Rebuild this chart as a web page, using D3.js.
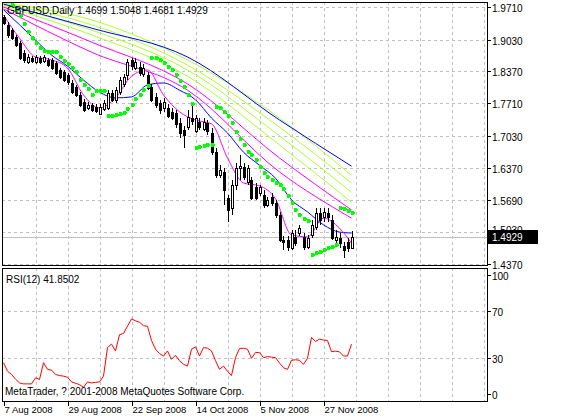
<!DOCTYPE html>
<html>
<head>
<meta charset="utf-8">
<script src="https://cdn.jsdelivr.net/npm/d3@7"></script>
<style>
  body { margin: 0; background: #fff; }
  text { font-family: "Liberation Sans", Arial, sans-serif; font-size: 10px; fill: #000; }
</style>
</head>
<body>
<script>
// GBPUSD daily bars
var opens = [1.950,1.933,1.923,1.909,1.896,1.875,1.857,1.865,1.857,1.865,1.859,1.861,1.861,1.855,1.840,1.836,1.830,1.813,1.805,1.788,
  1.773,1.761,1.767,1.763,1.748,1.759,1.761,1.792,1.778,1.794,1.811,1.830,1.861,1.844,1.846,1.832,1.830,1.805,1.784,1.771,
  1.761,1.761,1.753,1.751,1.730,1.715,1.721,1.740,1.713,1.732,1.717,1.730,1.709,1.669,1.622,1.628,1.574,1.553,1.601,1.636,
  1.638,1.607,1.611,1.597,1.584,1.580,1.559,1.576,1.563,1.538,1.486,1.486,1.470,1.493,1.501,1.493,1.472,1.497,1.514,1.543,
  1.534,1.543,1.528,1.486,1.491,1.474,1.482,1.4699];
var highs = [1.954,1.940,1.927,1.913,1.900,1.882,1.873,1.869,1.871,1.869,1.871,1.865,1.865,1.859,1.844,1.840,1.834,1.819,1.809,1.794,
  1.780,1.773,1.771,1.769,1.769,1.778,1.798,1.798,1.805,1.825,1.832,1.863,1.865,1.865,1.857,1.852,1.836,1.811,1.792,1.778,
  1.782,1.769,1.761,1.757,1.740,1.724,1.757,1.767,1.746,1.740,1.740,1.736,1.719,1.678,1.642,1.636,1.580,1.611,1.646,1.663,
  1.646,1.642,1.617,1.605,1.601,1.590,1.576,1.584,1.570,1.545,1.495,1.495,1.507,1.507,1.518,1.501,1.497,1.528,1.553,1.553,
  1.553,1.553,1.538,1.507,1.501,1.482,1.491,1.5048];
var lows = [1.933,1.907,1.902,1.888,1.861,1.855,1.852,1.855,1.852,1.852,1.855,1.846,1.840,1.830,1.821,1.815,1.809,1.790,1.784,1.763,
  1.753,1.757,1.753,1.751,1.746,1.755,1.757,1.773,1.771,1.788,1.805,1.819,1.840,1.840,1.827,1.825,1.798,1.773,1.761,1.748,
  1.753,1.740,1.736,1.719,1.699,1.678,1.715,1.726,1.709,1.715,1.713,1.705,1.663,1.615,1.615,1.559,1.524,1.538,1.590,1.611,
  1.611,1.601,1.570,1.570,1.578,1.553,1.555,1.557,1.532,1.482,1.466,1.464,1.466,1.474,1.495,1.466,1.468,1.491,1.507,1.518,
  1.524,1.524,1.486,1.480,1.470,1.449,1.461,1.4681];
var closes = [1.938,1.913,1.907,1.892,1.865,1.861,1.867,1.859,1.867,1.857,1.867,1.850,1.844,1.834,1.825,1.819,1.815,1.794,1.788,1.767,
  1.757,1.767,1.757,1.755,1.763,1.771,1.792,1.778,1.798,1.819,1.825,1.857,1.848,1.857,1.834,1.844,1.802,1.778,1.767,1.757,
  1.773,1.744,1.740,1.728,1.709,1.705,1.742,1.734,1.740,1.721,1.732,1.713,1.669,1.622,1.632,1.590,1.549,1.601,1.636,1.640,
  1.617,1.636,1.574,1.574,1.597,1.559,1.570,1.563,1.538,1.486,1.482,1.472,1.501,1.480,1.511,1.472,1.491,1.518,1.543,1.528,
  1.545,1.534,1.491,1.493,1.480,1.466,1.470,1.4929];

// Parabolic SAR per bar (null = hidden at the top)
var sar = [null,null,1.975,1.965,1.952,1.936,1.919,1.906,1.896,1.886,1.879,1.877,1.877,1.877,1.867,1.859,1.852,1.844,1.836,1.819,
  1.809,1.800,1.788,1.796,1.796,1.796,1.744,1.744,1.746,1.748,1.750,1.759,1.767,1.780,1.788,1.798,1.807,1.865,1.865,1.861,
  1.854,1.846,1.840,1.830,1.817,1.805,1.788,1.769,1.678,1.680,1.682,1.684,1.684,1.763,1.761,1.753,1.744,1.730,1.711,1.696,
  1.684,1.669,1.663,1.653,1.638,1.626,1.617,1.611,1.605,1.601,1.592,1.578,1.563,1.549,1.538,1.530,1.526,1.455,1.459,1.461,
  1.465,1.470,1.472,1.476,1.553,1.551,1.547,1.542];

// moving averages, sampled at bar indices
var fastIdx = [0,4,8,12,16,20,24,28,32,36,40,44,48,52,56,60,64,68,72,76,80,84,87];
var fastMagenta = [1.954,1.906,1.867,1.861,1.844,1.788,1.761,1.782,1.827,1.840,1.788,1.753,1.736,1.728,1.657,1.605,1.599,1.572,1.497,1.493,1.532,1.511,1.480];
var fastBlue = [1.965,1.934,1.902,1.871,1.848,1.819,1.794,1.782,1.784,1.809,1.813,1.798,1.778,1.740,1.709,1.669,1.642,1.615,1.570,1.545,1.518,1.503,1.501];
var slowIdx = [0,22,46,69,87];
var slowBlue = [1.977,1.927,1.867,1.736,1.640];
var green1 = [1.979,1.944,1.861,1.740,1.621];
var green2 = [1.977,1.934,1.850,1.721,1.605];
var green3 = [1.975,1.923,1.840,1.703,1.586];
var green4 = [1.973,1.913,1.827,1.684,1.565];
var magenta1 = [1.971,1.898,1.811,1.657,1.549];
var magenta2 = [1.967,1.877,1.798,1.628,1.532];

var rsi = [26.3,19.2,16.4,12.5,9.3,8.5,8.5,8.5,13.6,12.2,26.3,20.7,20.1,16.4,15.5,15,14.1,10.2,9,7.9,
  5.6,10.2,9.3,9.8,10.2,15,39,41.9,36.2,49.8,50.9,57,63.1,61.5,60.3,57.4,56.9,45,37.6,34,
  31.9,36.2,29.1,32.5,28,24.9,23.5,37.6,39.6,31.9,39,38.5,36.2,28,20.7,23.5,19,15.5,30.6,38.2,
  38.5,37.6,30,34.8,34.8,30.6,31.4,31,30.6,26,22.1,20.7,28.3,28.8,28.3,24.9,30,47.6,44.1,46.1,
  45.3,45,35.6,36,35.4,31.9,31.9,41.85];

var priceTicks = [1.9710,1.9030,1.8370,1.7710,1.7030,1.6370,1.5690,1.5030,1.4370];
var rsiTicks = [100,70,30,0];
var rsiGrid = [70,30];
var dateIdx = [0,16,32,48,64,80];
var dateLabels = ["7 Aug 2008","29 Aug 2008","22 Sep 2008","14 Oct 2008","5 Nov 2008","27 Nov 2008"];

var W = 564, H = 416;
var left = 2, right = 487;
var mainTop = 2, mainBottom = 265, rsiTop = 268, rsiBottom = 401;

var svg = d3.select("body").append("svg").attr("width", W).attr("height", H)
  .style("shape-rendering", "crispEdges");

var x = d3.scaleLinear().domain([0, 121]).range([3.5, 487.5]);
var y = d3.scaleLinear().domain([1.4325, 1.9813]).range([mainBottom + 1, mainTop]);
var yr = d3.scaleLinear().domain([0, 100]).range([394, 275]);

// grid
var gridX = d3.range(8, 121, 8);
function vgrid(y0, y1) {
  svg.append("g").selectAll("line").data(gridX).enter().append("line")
    .attr("x1", function (d) { return Math.round(x(d)) + 0.5; })
    .attr("x2", function (d) { return Math.round(x(d)) + 0.5; })
    .attr("y1", y0).attr("y2", y1)
    .attr("stroke", "#c0c0c0").attr("stroke-dasharray", "3,3");
}
vgrid(mainTop, mainBottom);
vgrid(rsiTop, rsiBottom);
svg.append("g").selectAll("line").data(priceTicks).enter().append("line")
  .attr("x1", left).attr("x2", right)
  .attr("y1", function (d) { return Math.round(y(d)) + 0.5; })
  .attr("y2", function (d) { return Math.round(y(d)) + 0.5; })
  .attr("stroke", "#c0c0c0").attr("stroke-dasharray", "3,3");
svg.append("g").selectAll("line").data(rsiGrid).enter().append("line")
  .attr("x1", left).attr("x2", right)
  .attr("y1", function (d) { return Math.round(yr(d)) + 0.5; })
  .attr("y2", function (d) { return Math.round(yr(d)) + 0.5; })
  .attr("stroke", "#c0c0c0").attr("stroke-dasharray", "3,3");

// last price line
var lastClose = closes[closes.length - 1];
svg.append("line").attr("x1", left).attr("x2", right)
  .attr("y1", Math.round(y(lastClose)) + 0.5).attr("y2", Math.round(y(lastClose)) + 0.5)
  .attr("stroke", "#c0c0c0");

// moving averages
var plot = svg.append("g").style("shape-rendering", "auto");
function maLine(idx, vals, color) {
  var line = d3.line().x(function (d, i) { return x(idx[i]); }).y(function (d) { return y(d); })
    .curve(d3.curveMonotoneX);
  plot.append("path").attr("d", line(vals)).attr("fill", "none")
    .attr("stroke", color).attr("stroke-width", 1);
}
maLine(slowIdx, green1, "#adff2f");
maLine(slowIdx, green2, "#adff2f");
maLine(slowIdx, green3, "#adff2f");
maLine(slowIdx, green4, "#adff2f");
maLine(slowIdx, magenta1, "#ff00ff");
maLine(slowIdx, magenta2, "#ff00ff");
maLine(slowIdx, slowBlue, "#0000ff");
maLine(fastIdx, fastBlue, "#0000ff");
maLine(fastIdx, fastMagenta, "#ff00ff");

// candles
var bars = svg.append("g");
closes.forEach(function (c, i) {
  var cx = Math.round(x(i)) + 0.5;
  var o = opens[i];
  bars.append("line").attr("x1", cx).attr("x2", cx)
    .attr("y1", Math.round(y(highs[i]))).attr("y2", Math.round(y(lows[i])))
    .attr("stroke", "#000");
  var top = Math.round(y(Math.max(o, c))), bot = Math.round(y(Math.min(o, c)));
  bars.append("rect").attr("x", cx - 1).attr("y", top + 0.5)
    .attr("width", 2).attr("height", Math.max(bot - top, 1))
    .attr("fill", c >= o ? "#fff" : "#000").attr("stroke", "#000");
});

// SAR dots
sar.forEach(function (s, i) {
  if (s === null) return;
  svg.append("rect").attr("x", Math.round(x(i)) - 1.5).attr("y", Math.round(y(s)) - 2)
    .attr("width", 4).attr("height", 4).attr("rx", 1).attr("fill", "#00ff00");
});

// RSI line
var rsiLine = d3.line().x(function (d, i) { return x(i); }).y(function (d) { return yr(d); });
svg.append("path").attr("d", rsiLine(rsi)).attr("fill", "none")
  .attr("stroke", "#ff0000").style("shape-rendering", "auto");

// frames
svg.append("rect").attr("x", left + 0.5).attr("y", mainTop + 0.5)
  .attr("width", right - left).attr("height", mainBottom - mainTop)
  .attr("fill", "none").attr("stroke", "#000");
svg.append("rect").attr("x", left + 0.5).attr("y", rsiTop + 0.5)
  .attr("width", right - left).attr("height", rsiBottom - rsiTop)
  .attr("fill", "none").attr("stroke", "#000");

// price axis (1.5030 sits behind the last-price box, as in the terminal)
var ly = Math.round(y(lastClose));
priceTicks.forEach(function (p) {
  var ty = Math.round(y(p)) + 0.5;
  svg.append("line").attr("x1", right).attr("x2", right + 4).attr("y1", ty).attr("y2", ty).attr("stroke", "#000");
  svg.append("text").attr("x", right + 5).attr("y", Math.abs(ty - ly) < 10 ? ty + 1 : ty + 4).text(p.toFixed(4));
});
svg.append("rect").attr("x", right + 1).attr("y", ly - 7).attr("width", 50).attr("height", 14).attr("fill", "#000");
svg.append("text").attr("x", right + 5).attr("y", ly + 4).style("fill", "#fff").text(lastClose.toFixed(4));

// RSI axis
rsiTicks.forEach(function (v) {
  var ty = Math.round(yr(v)) + 0.5;
  svg.append("line").attr("x1", right).attr("x2", right + 4).attr("y1", ty).attr("y2", ty).attr("stroke", "#000");
  svg.append("text").attr("x", right + 5).attr("y", ty + 4).text(v);
});

// date axis
dateIdx.forEach(function (d, i) {
  var tx = Math.round(x(d)) + 0.5;
  svg.append("line").attr("x1", tx).attr("x2", tx).attr("y1", rsiBottom).attr("y2", rsiBottom + 5).attr("stroke", "#000");
  svg.append("text").attr("x", tx).attr("y", rsiBottom + 12).style("font-size", "9.5px").text(dateLabels[i]);
});

// captions
svg.append("text").attr("x", 7).attr("y", 14)
  .text("GBPUSD,Daily  " + [opens[87], highs[87], lows[87], closes[87]].map(function (v) { return v.toFixed(4); }).join(" "));
svg.append("text").attr("x", 6).attr("y", 283).text("RSI(12) 41.8502");
svg.append("text").attr("x", 5).attr("y", 395).text("MetaTrader, ? 2001-2008 MetaQuotes Software Corp.");
</script>
</body>
</html>
